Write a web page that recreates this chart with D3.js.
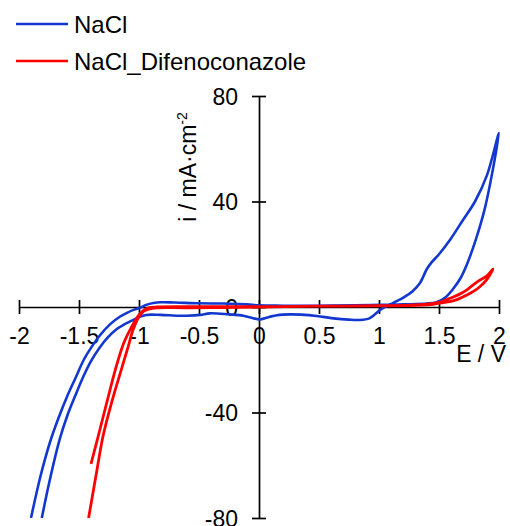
<!DOCTYPE html>
<html>
<head>
<meta charset="utf-8">
<script src="https://cdn.jsdelivr.net/npm/d3@7"></script>
<style>
  html, body { margin: 0; padding: 0; background: #fff; }
  svg { display: block; font-family: Arial, "Liberation Sans", sans-serif; }
</style>
</head>
<body>
<svg id="chart" width="510" height="526"></svg>
<script>
// ---- data ----
const seriesNames = ["NaCl", "NaCl_Difenoconazole"];
const seriesColors = ["#1238cf", "#ff0000"];
const xTicks = [-2, -1.5, -1, -0.5, 0, 0.5, 1, 1.5, 2];
const yTicks = [-80, -40, 0, 40, 80];

// NaCl cyclic voltammogram (E / V, i / mA·cm-2), in scan order
const naclE = [-1.90, -1.82, -1.74, -1.67, -1.60, -1.53, -1.46, -1.40, -1.33, -1.24, -1.16, -1.10, -1.04, -0.99, -0.94, -0.88, -0.82, -0.70, -0.50, -0.30, -0.10, 0.00, 0.20, 0.50, 0.80, 1.00, 1.20, 1.40, 1.48, 1.55, 1.62, 1.68, 1.74, 1.81, 1.88, 1.94, 2.00, 1.90, 1.80, 1.70, 1.60, 1.50, 1.44, 1.40, 1.34, 1.28, 1.20, 1.12, 1.06, 1.01, 0.96, 0.92, 0.84, 0.75, 0.62, 0.48, 0.35, 0.26, 0.15, 0.09, 0.01, -0.07, -0.13, -0.25, -0.41, -0.49, -0.60, -0.69, -0.82, -0.94, -1.00, -1.06, -1.13, -1.19, -1.26, -1.33, -1.40, -1.46, -1.53, -1.60, -1.66, -1.71, -1.76, -1.81];
const naclI = [-80, -64, -51, -42, -34, -27, -20, -15.5, -11, -6.5, -3.7, -2.2, -1.0, -0.3, 0.8, 1.5, 1.8, 1.7, 1.4, 1.3, 1.0, 0.6, 0.5, 0.5, 0.6, 0.8, 1.0, 1.3, 1.8, 3.5, 7, 11, 17, 26, 37, 50, 66, 50, 40, 33, 26, 20, 17, 14.5, 9, 6, 3.5, 1.6, 0.2, -1.1, -3.0, -4.3, -4.9, -4.8, -4.3, -3.4, -2.9, -2.8, -3.1, -3.7, -4.7, -4.0, -3.3, -2.8, -2.4, -3.0, -3.3, -3.3, -3.0, -3.0, -3.8, -5.2, -6.8, -8.5, -11.5, -15.5, -20.5, -26, -33.5, -41.5, -50, -59, -69, -80];

// NaCl + Difenoconazole cyclic voltammogram
const difE = [-1.40, -1.34, -1.27, -1.19, -1.13, -1.075, -1.03, -1.00, -0.96, -0.92, -0.85, -0.60, -0.30, 0.00, 0.50, 1.00, 1.30, 1.45, 1.52, 1.59, 1.66, 1.73, 1.79, 1.84, 1.90, 1.95, 1.90, 1.84, 1.78, 1.73, 1.66, 1.59, 1.52, 1.45, 1.30, 1.00, 0.50, 0.00, -0.30, -0.60, -0.85, -0.92, -0.96, -1.00, -1.05, -1.09, -1.14, -1.23, -1.30, -1.35, -1.42];
const difI = [-59.5, -49, -36.5, -22.6, -14, -8.7, -5, -3, -1.2, -0.3, 0.0, 0.1, 0.1, 0.1, 0.3, 0.4, 0.6, 1.0, 1.6, 2.0, 3.0, 4.5, 6.0, 7.7, 10.5, 14.4, 11.8, 10.2, 8.2, 6.4, 4.6, 3.3, 2.0, 1.4, 0.8, 0.5, 0.3, 0.0, -0.2, -0.3, -0.3, -0.8, -1.6, -3.7, -8.7, -15, -22.6, -36.5, -49, -61.7, -80];

// ---- drawing ----
const svg = d3.select("#chart");
const FS = 23;
const FONT = "Arial, 'Liberation Sans', sans-serif";

const x = d3.scaleLinear().domain([-2, 2]).range([19, 499]);
const y = d3.scaleLinear().domain([-80, 80]).range([518, 96]);

// X axis
const xAxis = svg.append("g")
  .attr("transform", `translate(0,${y(0)})`)
  .call(d3.axisBottom(x).tickValues(xTicks).tickSize(0).tickSizeOuter(0).tickFormat(d => String(d)));
xAxis.select(".domain").attr("stroke", "#000").attr("stroke-width", 1.7);
xAxis.selectAll(".tick").append("line")
  .attr("y1", -7).attr("y2", 7).attr("stroke", "#000").attr("stroke-width", 1.7);
xAxis.selectAll(".tick text")
  .attr("y", 37).attr("dy", null)
  .attr("font-size", FS).attr("font-family", FONT).attr("fill", "#000");

// Y axis
const yAxis = svg.append("g")
  .attr("transform", `translate(${x(0)},0)`)
  .call(d3.axisLeft(y).tickValues(yTicks).tickSize(0).tickSizeOuter(0).tickFormat(d => String(d)));
yAxis.select(".domain").attr("stroke", "#000").attr("stroke-width", 1.7);
yAxis.selectAll(".tick").append("line")
  .attr("x1", -7).attr("x2", 7).attr("stroke", "#000").attr("stroke-width", 1.7);
yAxis.selectAll(".tick text")
  .attr("x", -21).attr("dy", "0.36em")
  .attr("font-size", FS).attr("font-family", FONT).attr("fill", "#000");

// curves
const line = d3.line().x(d => x(d[0])).y(d => y(d[1])).curve(d3.curveCatmullRom.alpha(0.5));
const naclPts = naclE.map((e, i) => [e, naclI[i]]);
const difPts = difE.map((e, i) => [e, difI[i]]);

svg.append("clipPath").attr("id", "plotclip").append("rect")
  .attr("x", 0).attr("y", y(80)).attr("width", 510).attr("height", y(-80) - y(80));

const plot = svg.append("g").attr("clip-path", "url(#plotclip)");
plot.append("path").datum(naclPts).attr("d", line)
  .attr("fill", "none").attr("stroke", seriesColors[0]).attr("stroke-width", 2.6).attr("stroke-linejoin", "round");
plot.append("path").datum(difPts).attr("d", line)
  .attr("fill", "none").attr("stroke", seriesColors[1]).attr("stroke-width", 2.8).attr("stroke-linejoin", "round");

// axis titles
svg.append("text")
  .attr("transform", `translate(196,167) rotate(-90)`)
  .attr("text-anchor", "middle").attr("font-size", FS).attr("fill", "#000")
  .text("i / mA·cm")
  .append("tspan").attr("font-size", 14).attr("dy", -9).text("-2");

svg.append("text")
  .attr("x", 506).attr("y", 362).attr("text-anchor", "end")
  .attr("font-size", FS).attr("fill", "#000").text("E / V");

// legend
const legend = svg.append("g");
seriesNames.forEach((name, k) => {
  const ly = 24 + k * 37;
  legend.append("line").attr("x1", 16).attr("x2", 68).attr("y1", ly).attr("y2", ly)
    .attr("stroke", seriesColors[k]).attr("stroke-width", 2.6);
  legend.append("text").attr("x", 74).attr("y", ly).attr("dy", "0.36em")
    .attr("font-size", 24).attr("fill", "#000").text(name);
});
</script>
</body>
</html>
